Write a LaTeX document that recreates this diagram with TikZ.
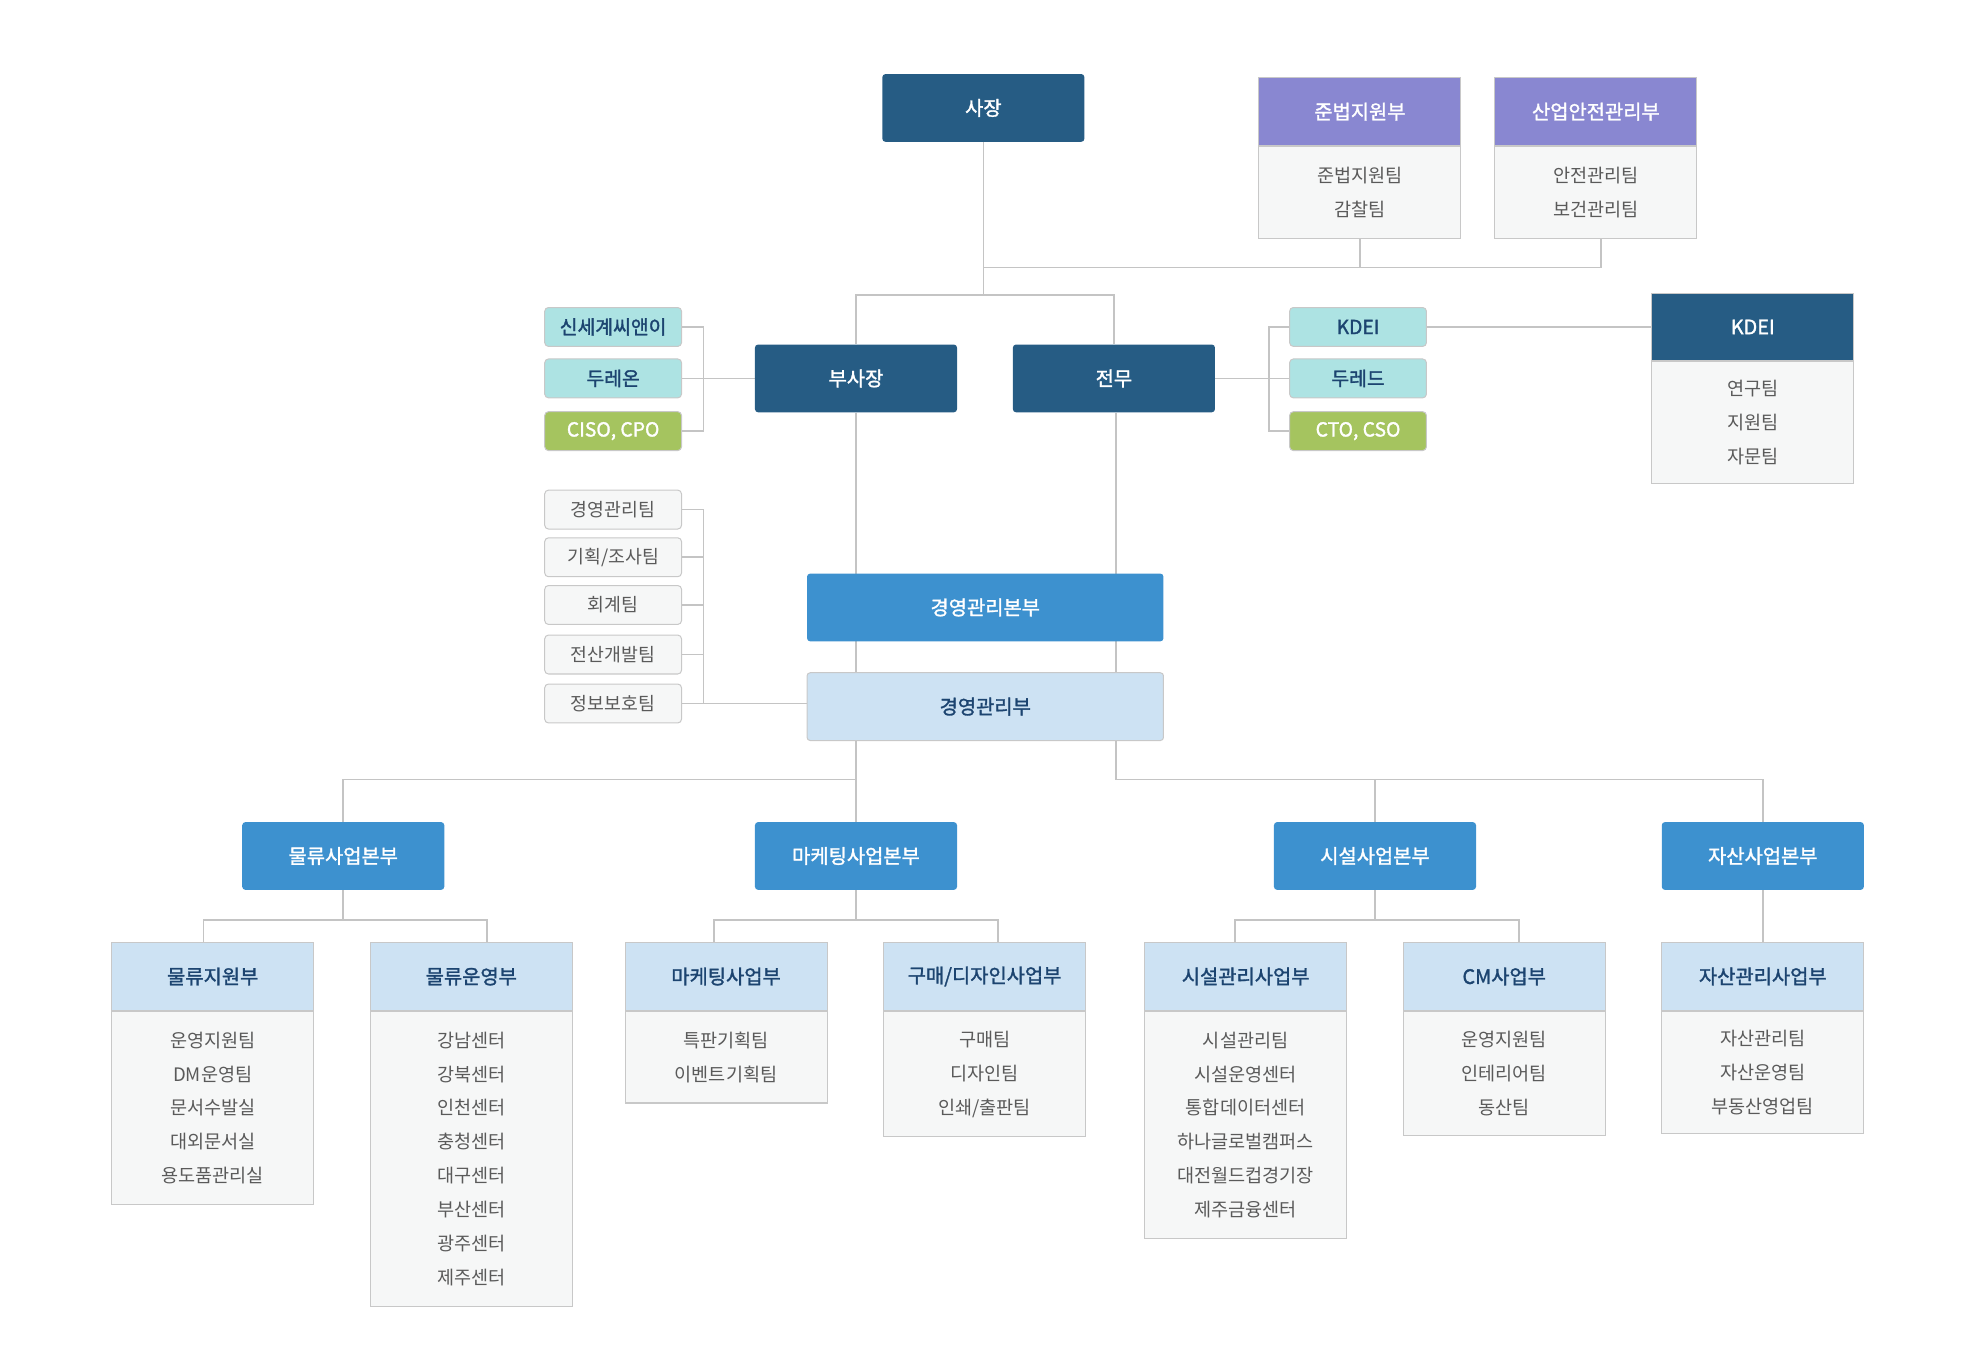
\documentclass[tikz,border=0pt]{standalone}
\usepackage{fontspec}
\setmainfont{Noto Sans CJK KR}
\newfontfamily\krsemi{Noto Sans CJK KR}[FakeBold=1.5]
\usetikzlibrary{backgrounds}

\definecolor{execblue}{RGB}{38,92,132}
\definecolor{hqblue}{RGB}{61,145,207}
\definecolor{lawpurple}{RGB}{137,135,209}
\definecolor{paleblue}{RGB}{205,226,243}
\definecolor{bodygray}{RGB}{246,247,247}
\definecolor{tagcyan}{RGB}{173,227,227}
\definecolor{taggreen}{RGB}{165,196,95}
\definecolor{linegray}{RGB}{196,196,196}
\definecolor{edgegray}{RGB}{200,200,200}
\definecolor{navytext}{RGB}{28,68,112}
\definecolor{itemtext}{RGB}{90,90,90}

\tikzset{
  conn/.style={draw=linegray, line width=1.3pt},
  exec/.style={fill=execblue, text=white, rounded corners=2.5pt, minimum width=161pt, minimum height=54pt, inner sep=0pt, font=\krsemi\fontsize{15.8}{17}\selectfont},
  hq/.style={exec, fill=hqblue},
  dept/.style={fill=paleblue, draw=edgegray, line width=0.8pt, text=navytext, minimum width=161pt, minimum height=54pt, inner sep=0pt, font=\krsemi\fontsize{15.8}{17}\selectfont},
  lawhead/.style={dept, fill=lawpurple, text=white},
  kdeihead/.style={dept, fill=execblue, text=white},
  teams/.style={fill=bodygray, draw=edgegray, line width=0.8pt, text=itemtext, minimum width=161pt, inner sep=0pt, align=center, anchor=north, font=\fontsize{14.8}{27}\selectfont},
  smallbox/.style={draw=edgegray, line width=0.8pt, rounded corners=3pt, minimum width=109pt, minimum height=31pt, inner sep=0pt, font=\krsemi\fontsize{15.4}{17}\selectfont},
  affil/.style={smallbox, fill=tagcyan, text=navytext},
  officer/.style={smallbox, fill=taggreen, text=white},
  teambox/.style={smallbox, fill=bodygray, text=itemtext, font=\fontsize{14.6}{17}\selectfont},
}

\begin{document}
\begin{tikzpicture}[x=1pt, y=-1pt]
\useasboundingbox (0,0) rectangle (1568,1084);

% Top: president and compliance units
\node[exec] (ceo) at (783.5,86) {사장};
\node[lawhead] (comp) at (1083.5,89) {준법지원부};
\node[teams, minimum height=73pt] (compteams) at (comp.south) {준법지원팀\\감찰팀};
\node[lawhead] (safety) at (1271.5,89) {산업안전관리부};
\node[teams, minimum height=73pt] (safetyteams) at (safety.south) {안전관리팀\\보건관리팀};

% Vice president and executive director
\node[exec] (vp) at (682,301.5) {부사장};
\node[exec] (ed) at (887.5,301.5) {전무};

% Affiliates and officers
\node[affil] (sse) at (488.5,260.5) {신세계씨앤이};
\node[affil] (dureon) at (488.5,301.5) {두레온};
\node[officer] (ciso) at (488.5,343.5) {CISO, CPO};
\node[affil] (kdeitag) at (1082,260.5) {KDEI};
\node[affil] (dured) at (1082,301.5) {두레드};
\node[officer] (cto) at (1082,343.5) {CTO, CSO};

\node[kdeihead] (kdei) at (1396.5,260.5) {KDEI};
\node[teams, minimum height=97pt] (kdeiteams) at (kdei.south) {연구팀\\지원팀\\자문팀};

% Management headquarters
\node[hq, minimum width=284pt] (mhq) at (785,484) {경영관리본부};
\node[dept, rounded corners=2.5pt, minimum width=284pt] (mgmt) at (785,563) {경영관리부};
\node[teambox] (t1) at (488.5,406) {경영관리팀};
\node[teambox] (t2) at (488.5,444) {기획/조사팀};
\node[teambox] (t3) at (488.5,482) {회계팀};
\node[teambox] (t4) at (488.5,521.5) {전산개발팀};
\node[teambox] (t5) at (488.5,560.5) {정보보호팀};

% Business headquarters
\node[hq] (logi) at (273.5,682) {물류사업본부};
\node[hq] (mkt) at (682,682) {마케팅사업본부};
\node[hq] (fac) at (1095.5,682) {시설사업본부};
\node[hq] (asset) at (1404.5,682) {자산사업본부};

% Business departments
\node[dept] (lsup) at (169.5,778) {물류지원부};
\node[teams, minimum height=154pt] (lsupteams) at (lsup.south) {운영지원팀\\DM운영팀\\문서수발실\\대외문서실\\용도품관리실};
\node[dept] (lops) at (375.5,778) {물류운영부};
\node[teams, minimum height=235pt] (lopsteams) at (lops.south) {강남센터\\강북센터\\인천센터\\충청센터\\대구센터\\부산센터\\광주센터\\제주센터};
\node[dept] (msales) at (578.5,778) {마케팅사업부};
\node[teams, minimum height=73pt] (msalesteams) at (msales.south) {특판기획팀\\이벤트기획팀};
\node[dept] (design) at (784.5,778) {구매/디자인사업부};
\node[teams, minimum height=100pt] (designteams) at (design.south) {구매팀\\디자인팀\\인쇄/출판팀};
\node[dept] (fmgmt) at (992.5,778) {시설관리사업부};
\node[teams, minimum height=181pt] (fmgmtteams) at (fmgmt.south) {시설관리팀\\시설운영센터\\통합데이터센터\\하나글로벌캠퍼스\\대전월드컵경기장\\제주금융센터};
\node[dept] (cm) at (1198.5,778) {CM사업부};
\node[teams, minimum height=99pt] (cmteams) at (cm.south) {운영지원팀\\인테리어팀\\동산팀};
\node[dept] (amgmt) at (1404.5,778) {자산관리사업부};
\node[teams, minimum height=97pt] (amgmtteams) at (amgmt.south) {자산관리팀\\자산운영팀\\부동산영업팀};

\coordinate (trow) at (0,213);
\coordinate (srow) at (0,235);
\coordinate (brow) at (0,621);

% Connectors
\begin{scope}[on background layer]
\draw[conn] (ceo.south) |- ([xshift=4pt]safetyteams.south |- trow) -- ([xshift=4pt]safetyteams.south);
\draw[conn] (compteams.south) -- (compteams.south |- trow);
\draw[conn] (ceo.south) |- (vp.north |- srow) -- (vp.north);
\draw[conn] (ceo.south |- srow) -| (ed.north);

\draw[conn] (sse.east) -- ++(17,0) |- (ciso.east);
\draw[conn] (dureon.east) -- (vp.west);
\draw[conn] (kdeitag.west) -- ++(-16,0) |- (cto.west);
\draw[conn] (ed.east) -- (dured.west);
\draw[conn] (kdeitag.east) -- (kdei.west);

\draw[conn] (t1.east) -- ++(17,0) |- (t5.east);
\draw[conn] (t2.east) -- ++(17,0);
\draw[conn] (t3.east) -- ++(17,0);
\draw[conn] (t4.east) -- ++(17,0);
\draw[conn] (t5.east) -- (t5.east -| mgmt.west);

\draw[conn] (vp.south) |- (logi.north |- brow) -- (logi.north);
\draw[conn] (vp.south) -- (mkt.north);
\draw[conn] ([xshift=1.5pt]ed.south) |- (asset.north |- brow) -- (asset.north);
\draw[conn] (fac.north |- brow) -- (fac.north);

\draw[conn] (logi.south) -- ++(0,24) -| ([xshift=-7.5pt]lsup.north);
\draw[conn] (logi.south) ++(0,24) -| ([xshift=12.5pt]lops.north);
\draw[conn] (mkt.south) -- ++(0,24) -| ([xshift=-9.5pt]msales.north);
\draw[conn] (mkt.south) ++(0,24) -| ([xshift=10.5pt]design.north);
\draw[conn] (fac.south) -- ++(0,24) -| ([xshift=-8.5pt]fmgmt.north);
\draw[conn] (fac.south) ++(0,24) -| ([xshift=11.5pt]cm.north);
\draw[conn] (asset.south) -- (amgmt.north);
\end{scope}
\end{tikzpicture}
\end{document}
